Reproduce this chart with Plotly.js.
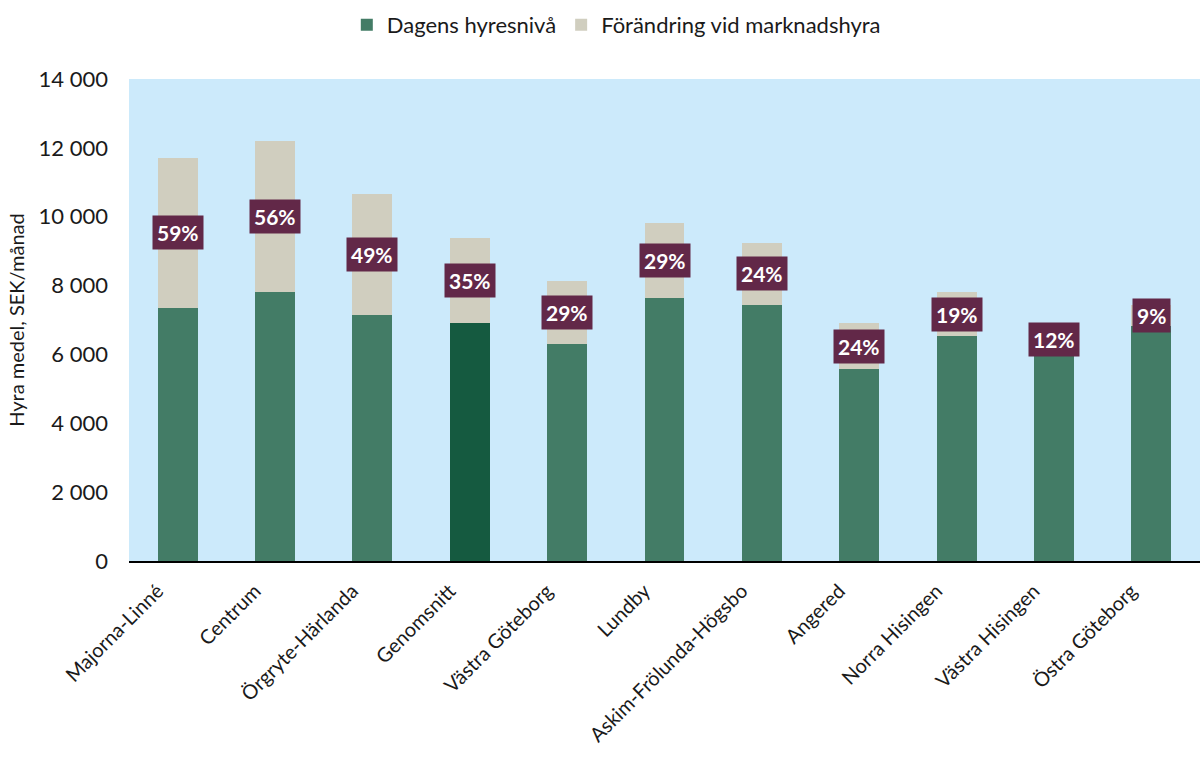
<!DOCTYPE html>
<html>
<head>
<meta charset="utf-8">
<script src="https://cdn.plot.ly/plotly-3.0.1.min.js"></script>
<style>html,body{margin:0;padding:0;background:#fff;}#chart{width:1201px;height:758px;}</style>
</head>
<body>
<div id="chart"></div>
<script>
const categories = ["Majorna-Linné","Centrum","Örgryte-Härlanda","Genomsnitt","Västra Göteborg","Lundby","Askim-Frölunda-Högsbo","Angered","Norra Hisingen","Västra Hisingen","Östra Göteborg"];
const currentRent = [7360, 7820, 7150, 6920, 6300, 7630, 7440, 5570, 6540, 6070, 6840];
const marketChange = [4360, 4380, 3500, 2450, 1830, 2200, 1800, 1330, 1260, 730, 610];
const pctLabels = ["59%","56%","49%","35%","29%","29%","24%","24%","19%","12%","9%"];
const seriesNames = ["Dagens hyresnivå","Förändring vid marknadshyra"];

const green = "#437C66", darkGreen = "#155A40", beige = "#D0CEBF", bg = "#CCEAFB", maroon = "#622848";
const font = "Lato, 'Noto Sans', sans-serif";

const barColors = categories.map(c => c === "Genomsnitt" ? darkGreen : green);

const traces = [
  {type:"bar", name:seriesNames[0], x:categories, y:currentRent, marker:{color:barColors}, hoverinfo:"none"},
  {type:"bar", name:seriesNames[1], x:categories, y:marketChange, marker:{color:beige}, hoverinfo:"none"}
];

const annotations = categories.map((c,i) => ({
  x:c, y: currentRent[i] + marketChange[i]/2, xref:"x", yref:"y",
  text:"<b>"+pctLabels[i]+"</b>", showarrow:false,
  font:{family:font, size:21, color:"#ffffff"},
  bgcolor:maroon, borderpad:4
}));

const layout = {
  width:1201, height:758,
  margin:{l:129, r:1, t:79, b:197},
  barmode:"stack", bargap:0.59,
  plot_bgcolor:bg, paper_bgcolor:"#ffffff",
  separators:", ",
  font:{family:font, size:20, color:"#1a1a1a"},
  showlegend:true,
  legend:{orientation:"h", x:0.455, xanchor:"center", y:1.112, yanchor:"middle", font:{family:font, size:22, color:"#1a1a1a"}, traceorder:"normal", itemwidth:30},
  xaxis:{tickangle:-45, showline:true, linecolor:"#000", linewidth:1.5, ticks:"", ticklabelstandoff:9, ticklabelshift:-20, tickfont:{family:font, size:20, color:"#1a1a1a"}, showgrid:false},
  yaxis:{range:[0,14000], tickvals:[0,2000,4000,6000,8000,10000,12000,14000], tickformat:",.0f", showgrid:false, zeroline:false, showline:false, ticks:"", ticklen:0, ticklabelstandoff:20, tickfont:{family:font, size:22, color:"#1a1a1a"},
         title:{text:"Hyra medel, SEK/månad", font:{family:font, size:20, color:"#1a1a1a"}, standoff:8}},
  annotations:annotations
};

Plotly.newPlot("chart", traces, layout, {displayModeBar:false, staticPlot:true});
</script>
</body>
</html>
